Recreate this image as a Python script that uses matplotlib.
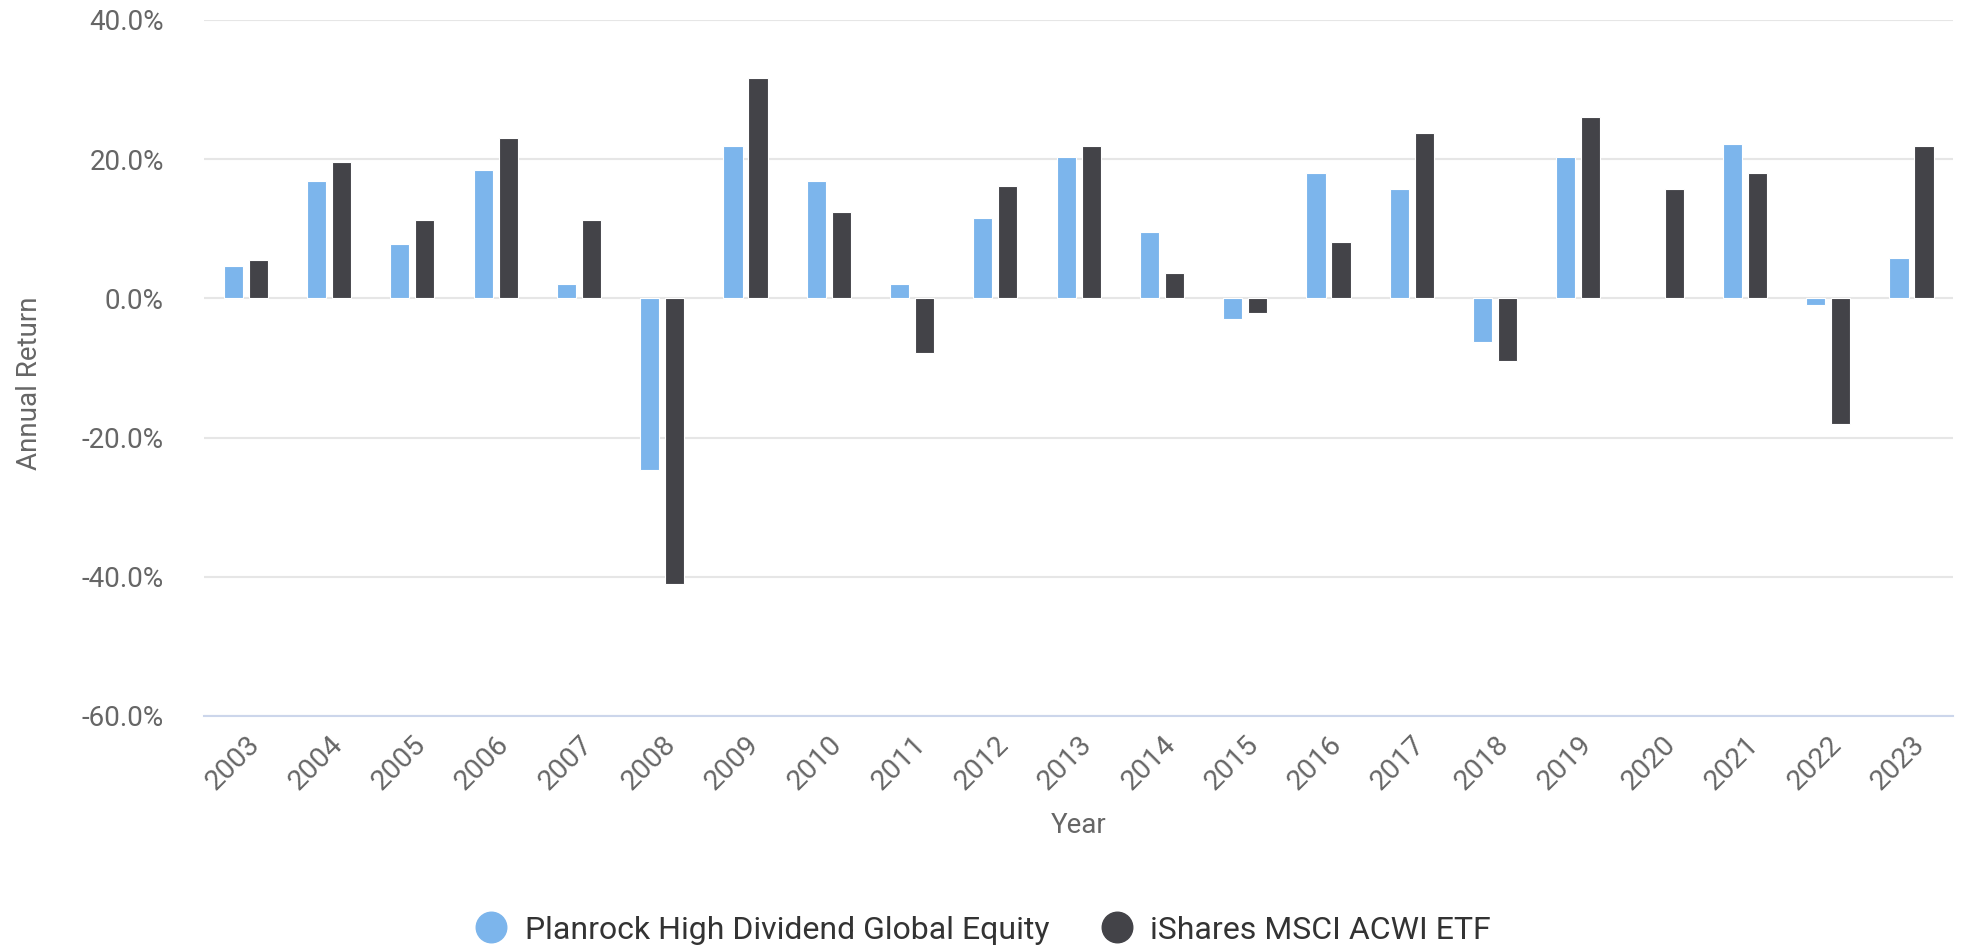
import numpy as np
import matplotlib
matplotlib.use("Agg")
import matplotlib.pyplot as plt
from matplotlib.ticker import FuncFormatter
from matplotlib.lines import Line2D

# Datos (rentabilidad anual en %)
years = [str(y) for y in range(2003, 2024)]
planrock = [4.7, 16.9, 7.8, 18.5, 2.0, -24.6, 21.9, 16.9, 2.0, 11.6, 20.3,
            9.6, -2.9, 18.0, 15.7, -6.3, 20.3, np.nan, 22.2, -1.0, 5.8]
acwi = [5.5, 19.6, 11.2, 23.0, 11.2, -41.0, 31.7, 12.4, -7.9, 16.2, 21.9,
        3.6, -2.1, 8.1, 23.8, -9.0, 26.1, 15.7, 18.0, -18.1, 21.9]
series_names = ["Planrock High Dividend Global Equity", "iShares MSCI ACWI ETF"]
colors = ["#7cb5ec", "#434348"]

plt.rcParams['font.family'] = ['Roboto', 'DejaVu Sans']

fig = plt.figure(figsize=(19.63, 9.52), dpi=100)
ax = fig.add_axes([0.104, 0.248, 0.891, 0.731])

x = np.arange(len(years))
w = 0.23
ax.bar(x - 0.15, planrock, w, color=colors[0], edgecolor="white", linewidth=0.8, zorder=3)
ax.bar(x + 0.15, acwi, w, color=colors[1], edgecolor="white", linewidth=0.8, zorder=3)

ax.set_xlim(-0.5, len(years) - 0.5)
ax.set_ylim(-60, 40)
ax.set_yticks([-60, -40, -20, 0, 20, 40])
ax.yaxis.set_major_formatter(FuncFormatter(lambda v, p: f"{v:.1f}%"))
ax.grid(axis="y", color="#e6e6e6", linewidth=1.5, zorder=0)
ax.set_axisbelow(True)

for s in ["top", "right", "left"]:
    ax.spines[s].set_visible(False)
ax.spines["bottom"].set_color("#ccd6eb")
ax.spines["bottom"].set_linewidth(1.5)

ax.set_xticks(x)
ax.set_xticklabels(years, rotation=45, ha="right", rotation_mode="anchor")
ax.tick_params(axis="x", length=0, pad=11, labelsize=20.5, labelcolor="#666666")
ax.tick_params(axis="y", length=0, pad=29, labelsize=20, labelcolor="#666666")

ax.set_xlabel("Year", fontsize=20, color="#666666", labelpad=12)
ax.set_ylabel("Annual Return", fontsize=20, color="#666666", labelpad=28)
ax.yaxis.label.set_y(0.478)

handles = [Line2D([0], [0], marker="o", linestyle="", markersize=22,
                  markerfacecolor=c, markeredgecolor=c) for c in colors]
fig.legend(handles, series_names, loc="center", bbox_to_anchor=(0.5, 0.023),
           ncol=2, frameon=False, fontsize=23, labelcolor="#333333",
           handletextpad=0.45, columnspacing=1.5, handlelength=1.2)

fig.savefig("out.png", dpi=100)
